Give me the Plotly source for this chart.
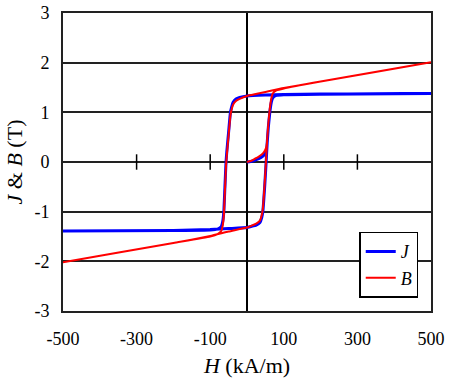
import plotly.graph_objects as go

# Initial magnetisation curve (H in kA/m, J and B in T)
H_init = [0, 10, 20, 30, 40, 47, 52, 54]
J_init = [0.00, 0.01, 0.03, 0.06, 0.10, 0.15, 0.22, 0.30]
B_init = [0.00, 0.02, 0.06, 0.10, 0.15, 0.21, 0.29, 0.37]

# Descending branch (+500 -> -500)
H_desc = [500, 200, 100, 50, 0, -20, -30, -38, -42, -45, -50, -55, -57, -60, -63, -66, -70, -80, -100, -200, -500]
J_desc = [1.38, 1.37, 1.36, 1.35, 1.33, 1.30, 1.27, 1.20, 1.10, 1.00, 0.60, 0.20, 0.00, -0.50, -1.00, -1.20, -1.30, -1.35, -1.37, -1.38, -1.39]
B_desc = [2.01, 1.62, 1.49, 1.41, 1.33, 1.27, 1.23, 1.15, 1.05, 0.94, 0.54, 0.13, -0.07, -0.58, -1.08, -1.28, -1.39, -1.45, -1.50, -1.63, -2.02]

# Ascending branch (-500 -> +500)
H_asc = [-500, -200, -100, -50, 0, 10, 25, 35, 40, 43, 48, 52, 55, 58, 62, 66, 70, 80, 100, 200, 500]
J_asc = [-1.39, -1.38, -1.36, -1.34, -1.32, -1.30, -1.27, -1.22, -1.12, -1.00, -0.50, 0.00, 0.40, 0.70, 1.00, 1.20, 1.29, 1.34, 1.355, 1.365, 1.38]
B_asc = [-2.02, -1.63, -1.49, -1.40, -1.32, -1.29, -1.24, -1.18, -1.07, -0.95, -0.44, 0.07, 0.47, 0.77, 1.08, 1.28, 1.38, 1.44, 1.48, 1.62, 2.01]

x_ticks = [-500, -300, -100, 100, 300, 500]
x_tick_labels = ["-500", "-300", "-100", "100", "300", "500"]
y_ticks = [-3, -2, -1, 0, 1, 2, 3]
y_tick_labels = ["-3", "-2", "-1", "0", "1", "2", "3"]
axis_ticks = [-300, -100, 100, 300]

FONT = "Liberation Serif, Times New Roman, serif"

# join: initial curve, then remaining rise to +500, descending, ascending
start = next(i for i, h in enumerate(H_asc) if h > H_init[-1])
H_all = H_init + H_asc[start:] + H_desc + H_asc
J_all = J_init + J_asc[start:] + J_desc + J_asc
B_all = B_init + B_asc[start:] + B_desc + B_asc

fig = go.Figure()
fig.add_trace(go.Scatter(x=H_all, y=J_all, mode="lines", name="<i>J</i>",
                         line=dict(color="#0000ff", width=3, shape="spline", smoothing=0.4)))
fig.add_trace(go.Scatter(x=H_all, y=B_all, mode="lines", name="<i>B</i>",
                         line=dict(color="#ff0000", width=2, shape="spline", smoothing=0.4)))
fig.add_trace(go.Scatter(x=axis_ticks, y=[0] * len(axis_ticks), mode="markers",
                         marker=dict(symbol="line-ns", size=11,
                                     line=dict(color="black", width=1.5)),
                         showlegend=False, hoverinfo="skip"))

fig.update_layout(
    width=455, height=387,
    margin=dict(l=63, r=24, t=13, b=76),
    paper_bgcolor="white", plot_bgcolor="white",
    font=dict(family=FONT, size=18, color="black"),
    legend=dict(x=0.805, y=0.266, xanchor="left", yanchor="top",
                bgcolor="white", bordercolor="black", borderwidth=1.5,
                font=dict(family=FONT, size=18)),
    xaxis=dict(range=[-500, 500], tickvals=x_ticks, ticktext=x_tick_labels, ticks="",
               ticklabelstandoff=10, automargin=False,
               showgrid=False, zeroline=True, zerolinecolor="black", zerolinewidth=1.5,
               showline=True, mirror=True, linecolor="#222", linewidth=2,
               title=dict(text="<i>H</i> (kA/m)", standoff=10)),
    yaxis=dict(range=[-3, 3], tickvals=y_ticks, ticktext=y_tick_labels, ticks="",
               ticklabelstandoff=8, automargin=False,
               showgrid=True, gridcolor="#222", gridwidth=1.5,
               zeroline=True, zerolinecolor="#222", zerolinewidth=1.5,
               showline=True, mirror=True, linecolor="#222", linewidth=2,
               title=dict(text="<i>J</i> &amp; <i>B</i> (T)", standoff=6)),
)

# remove the browser's default 8px body margin so the figure fills the window
fig.write_html("out.html", config={"displayModeBar": False},
               post_script="document.body.style.margin='0';")
